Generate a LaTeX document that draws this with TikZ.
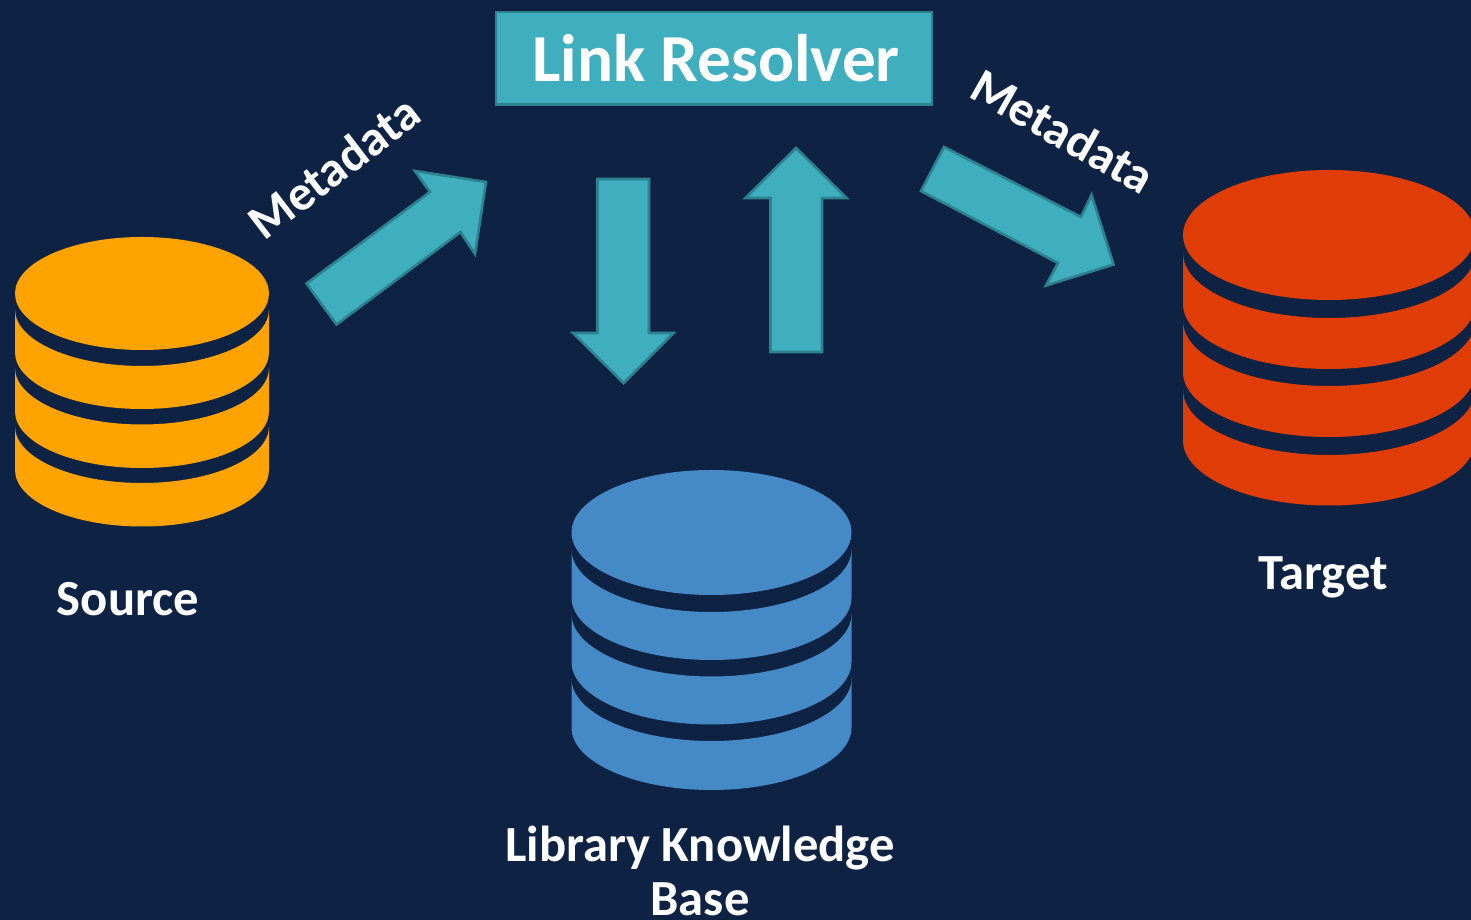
\documentclass[tikz,border=0pt]{standalone}
\usepackage{fontspec}
\setmainfont{Carlito}
\definecolor{bgnavy}{HTML}{0E2344}
\definecolor{tealfill}{HTML}{3FAEBF}
\definecolor{tealedge}{HTML}{2E8290}
\definecolor{dborange}{HTML}{FFA300}
\definecolor{dbred}{HTML}{E03C05}
\definecolor{dbblue}{HTML}{4589C6}
\tikzset{
  blockarrow/.style={fill=tealfill,draw=tealedge,line width=1.3pt,line join=miter},
  label/.style={text=white,inner sep=0pt,align=center,font=\fontsize{25.3}{27}\selectfont\bfseries},
  metalabel/.style={text=white,inner sep=0pt,font=\fontsize{24.8}{27}\selectfont\bfseries},
}
% #1 colour, #2 cx, #3 page height, #4 rx, #5 ry, #6 top arc centre, #7 bottom arc centre (from the top of the page)
\newcommand{\dblayer}[7]{%
  \fill[#1] (#2-#4,#3-#6) arc[start angle=180,end angle=360,x radius=#4,y radius=#5]
     -- (#2+#4,#3-#7) arc[start angle=0,end angle=-180,x radius=#4,y radius=#5] -- cycle;}
\begin{document}
\begin{tikzpicture}[x=0.5pt,y=0.5pt]
\useasboundingbox (0,0) rectangle (1471,920);
\fill[bgnavy] (0,0) rectangle (1471,920);
% Source database
\fill[dborange] (142,626.5) ellipse[x radius=127,y radius=56.5];
\dblayer{dborange}{142}{920}{127}{56.5}{309.5}{352.5}
\dblayer{dborange}{142}{920}{127}{56.5}{368}{411.5}
\dblayer{dborange}{142}{920}{127}{56.5}{426.5}{470}
% Library database
\fill[dbblue] (711.5,387.5) ellipse[x radius=140,y radius=62.5];
\dblayer{dbblue}{711.5}{920}{140}{62.5}{549.5}{597.5}
\dblayer{dbblue}{711.5}{920}{140}{62.5}{614}{662}
\dblayer{dbblue}{711.5}{920}{140}{62.5}{678.5}{727.5}
% Target database
\begin{scope}
\clip (0,0) rectangle (1471,920);
\fill[dbred] (1329,685) ellipse[x radius=146,y radius=65];
\dblayer{dbred}{1329}{920}{146}{65}{253}{304}
\dblayer{dbred}{1329}{920}{146}{65}{321}{372}
\dblayer{dbred}{1329}{920}{146}{65}{390}{440.5}
\end{scope}
% Link Resolver
\node[fill=tealfill,draw=tealedge,line width=1.3pt,minimum width=218pt,minimum height=46.3pt,inner sep=0pt,text=white,font=\fontsize{33.6}{36}\selectfont\bfseries] (resolver) at (714,861.6) {\hspace*{2pt}Link Resolver};
% Arrows
\draw[blockarrow] (306.5,636.5) -- (336.5,595.5) -- (460.5,688) -- (475,666) -- (486,738) -- (415,749) -- (430,728) -- cycle;
\draw[blockarrow] (597.5,741) -- (649,741) -- (649,587) -- (673.5,587) -- (623.5,537) -- (573,587) -- (597.5,587) -- cycle;
\draw[blockarrow] (770.5,568) -- (822,568) -- (822,722) -- (846.5,722) -- (796,772) -- (745.5,722) -- (770.5,722) -- cycle;
\draw[blockarrow] (921,729) -- (944,773) -- (1081,703) -- (1091.5,725) -- (1113.5,655.5) -- (1046,634.5) -- (1058,657) -- cycle;
% Labels
\node[metalabel,rotate=37.5] (metaleft) at (334,753) {Metadata};
\node[metalabel,rotate=-29.5] (metaright) at (1063,789) {Metadata};
\node[label] (source) at (128,321) {Source};
\node[label] (target) at (1323,343) {Target};
\node[label] (library) at (700,49) {Library Knowledge\\Base};
\end{tikzpicture}
\end{document}
